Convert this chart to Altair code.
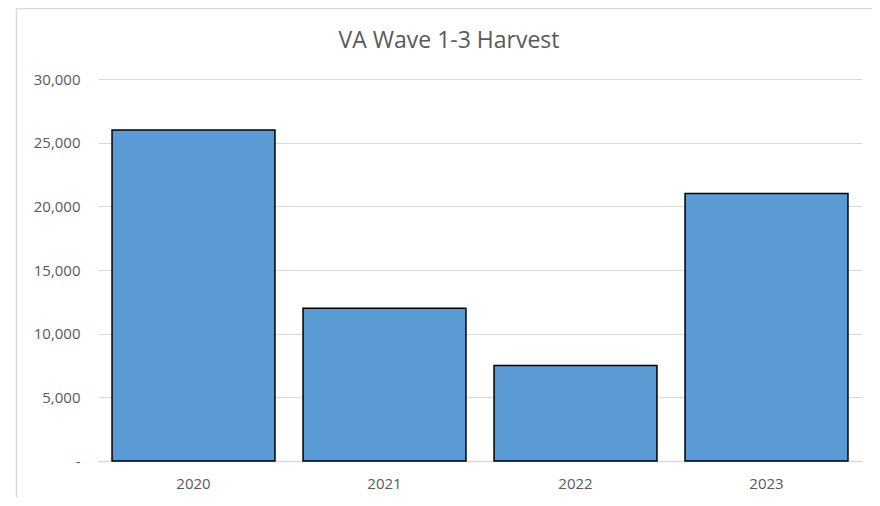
import altair as alt
import pandas as pd

years = ["2020", "2021", "2022", "2023"]
harvest = [26000, 12000, 7500, 21000]
y_ticks = [0, 5000, 10000, 15000, 20000, 25000, 30000]
chart_title = "VA Wave 1-3 Harvest"

df = pd.DataFrame({"year": years, "harvest": harvest})
frame_df = pd.DataFrame({"k": [0]})
title_df = pd.DataFrame({"t": [chart_title]})

FONT = "Open Sans"
GREY = "#595959"

bars = alt.Chart(df).mark_bar(
    color="#5B9BD5", stroke="#000000", strokeWidth=1.5
).encode(
    x=alt.X(
        "year:N",
        sort=years,
        title=None,
        scale=alt.Scale(paddingInner=0.147, paddingOuter=0.0735),
        axis=alt.Axis(
            labelAngle=0, ticks=False, domainColor="#D9D9D9", domainWidth=1.5,
            labelColor=GREY, labelFont=FONT, labelFontSize=15, labelPadding=15,
            grid=False,
        ),
    ),
    y=alt.Y(
        "harvest:Q",
        title=None,
        scale=alt.Scale(domain=[0, 30000], nice=False),
        axis=alt.Axis(
            values=y_ticks, domain=False, ticks=False, gridColor="#D9D9D9",
            gridWidth=1.2, labelColor=GREY, labelFont=FONT, labelFontSize=15,
            labelPadding=18,
            labelExpr="datum.value == 0 ? '-\u00a0\u00a0\u00a0' : format(datum.value, ',')",
        ),
    ),
)

frame = alt.Chart(frame_df).mark_rect(
    fill="transparent", stroke="#D9D9D9", strokeWidth=1.5
).encode(
    x=alt.value(-81.5), x2=alt.value(900), y=alt.value(-70.5), y2=alt.value(600)
)

title = alt.Chart(title_df).mark_text(
    font=FONT, fontSize=23, color=GREY, align="center", baseline="alphabetic"
).encode(
    text="t:N", x=alt.value(351), y=alt.value(-31)
)

chart = alt.layer(frame, bars, title).properties(
    width=764,
    height=382,
    autosize=alt.AutoSizeParams(type="none"),
    padding={"left": 90, "top": 71, "right": 10, "bottom": 36},
).configure_view(stroke=None)

chart.save("out.html", embed_options={"renderer": "svg", "actions": False})
